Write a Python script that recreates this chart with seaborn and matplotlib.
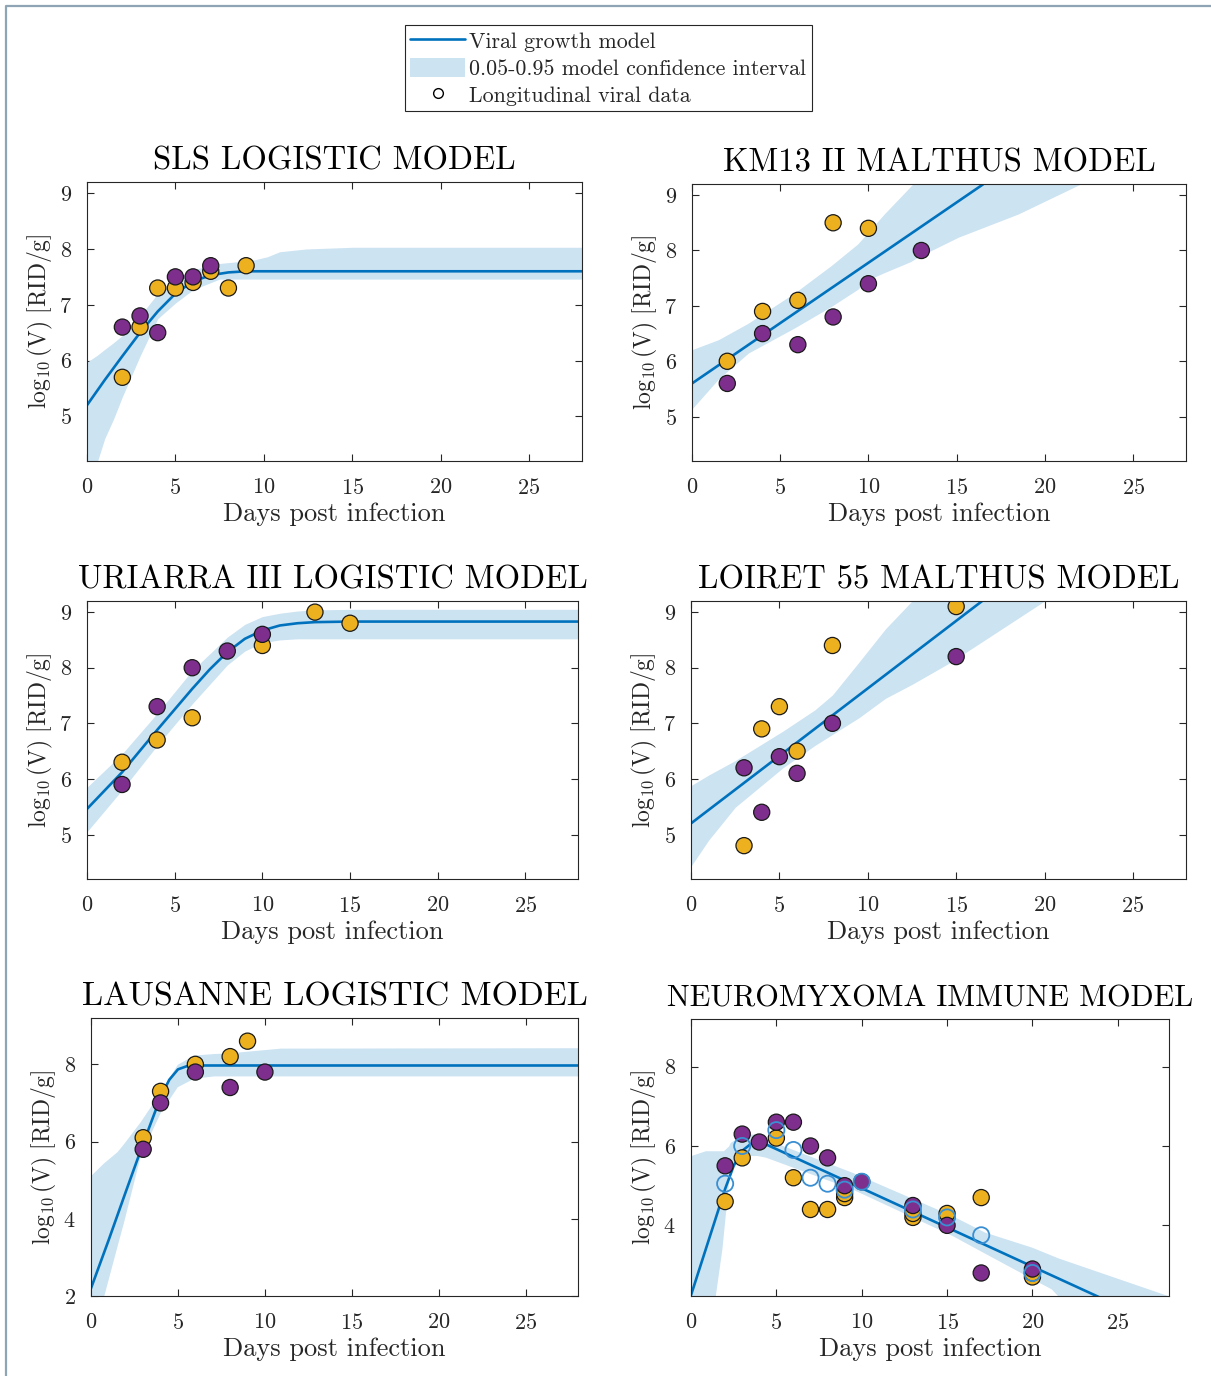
import matplotlib
matplotlib.use("Agg")
import matplotlib.pyplot as plt
import numpy as np
import pandas as pd
import seaborn as sns
from matplotlib.lines import Line2D
from matplotlib.patches import Patch

# ---------------- data ----------------
days_ticks = [0, 5, 10, 15, 20, 25]

# SLS logistic
sls_or_t = [2, 3, 4, 5, 6, 7, 8, 9]
sls_or_v = [5.7, 6.6, 7.3, 7.3, 7.4, 7.6, 7.3, 7.7]
sls_pu_t = [2, 3, 4, 5, 6, 7]
sls_pu_v = [6.6, 6.8, 6.5, 7.5, 7.5, 7.7]
sls_model_t = [0, 1, 2, 3, 4, 5, 6, 7, 8, 9, 10, 28]
sls_model_v = [5.2, 5.65, 6.08, 6.5, 6.88, 7.2, 7.42, 7.53, 7.58, 7.6, 7.6, 7.6]
sls_ci_t = [0, 0.6, 1, 1.5, 2, 3, 4, 5, 6, 7.5, 9.4, 10.2, 10.9, 12.4, 15, 28]
sls_ci_lo = [3.5, 4.2, 4.6, 4.95, 5.35, 6.08, 6.75, 7.03, 7.27, 7.46, 7.46, 7.46, 7.46, 7.46, 7.46, 7.46]
sls_ci_hi = [5.97, 6.1, 6.2, 6.32, 6.45, 6.8, 7.2, 7.45, 7.63, 7.74, 7.8, 7.86, 7.95, 8.0, 8.03, 8.03]

# KM13 II Malthus
km_or_t = [2, 4, 6, 8, 10]
km_or_v = [6.0, 6.9, 7.1, 8.5, 8.4]
km_pu_t = [2, 4, 6, 8, 10, 13]
km_pu_v = [5.6, 6.5, 6.3, 6.8, 7.4, 8.0]
km_model_t = [0, 28]
km_model_v = [5.6, 11.7]
km_ci_t = [0, 1.5, 3.2, 5.8, 7.9, 9.4, 9.9, 10.9, 12.4, 12.8, 15.1, 18.5, 21.9, 28]
km_ci_lo = [5.14, 5.68, 6.15, 6.6, 6.99, 7.3, 7.46, 7.6, 7.8, 7.88, 8.24, 8.66, 9.18, 10.0]
km_ci_hi = [6.21, 6.39, 6.69, 7.23, 7.73, 8.12, 8.3, 8.66, 9.16, 9.3, 10.1, 11.2, 12.3, 14.3]

# Uriarra III logistic
ur_or_t = [2, 4, 6, 10, 13, 15]
ur_or_v = [6.3, 6.7, 7.1, 8.4, 9.0, 8.8]
ur_pu_t = [2, 4, 6, 8, 10]
ur_pu_v = [5.9, 7.3, 8.0, 8.3, 8.6]
ur_model_t = [0, 2, 4, 6, 7, 8, 9, 10, 11, 12, 13, 15, 28]
ur_model_v = [5.46, 6.12, 6.88, 7.62, 7.97, 8.28, 8.52, 8.67, 8.76, 8.8, 8.82, 8.83, 8.83]
ur_ci_t = [0, 2, 4, 6, 8, 9, 10, 11, 12, 13, 15, 28]
ur_ci_lo = [5.05, 5.8, 6.6, 7.35, 8.05, 8.3, 8.45, 8.5, 8.52, 8.52, 8.52, 8.52]
ur_ci_hi = [5.85, 6.45, 7.18, 7.95, 8.55, 8.78, 8.92, 8.98, 9.02, 9.04, 9.05, 9.05]

# Loiret 55 Malthus
lt_or_t = [3, 4, 5, 6, 8, 15]
lt_or_v = [4.8, 6.9, 7.3, 6.5, 8.4, 9.1]
lt_pu_t = [3, 4, 5, 6, 8, 15]
lt_pu_v = [6.2, 5.4, 6.4, 6.1, 7.0, 8.2]
lt_model_t = [0, 28]
lt_model_v = [5.2, 12.0]
lt_ci_t = [0, 1, 2.5, 5.2, 7, 8, 9.5, 11, 12.5, 14.7, 20, 28]
lt_ci_lo = [4.43, 4.9, 5.49, 6.2, 6.6, 6.8, 7.1, 7.45, 7.7, 8.1, 9.2, 10.5]
lt_ci_hi = [5.88, 6.07, 6.33, 6.86, 7.24, 7.51, 8.1, 8.7, 9.2, 9.8, 11.2, 13.5]

# Lausanne logistic
la_or_t = [3, 4, 6, 8, 9]
la_or_v = [6.1, 7.3, 8.0, 8.2, 8.6]
la_pu_t = [3, 4, 6, 8, 10]
la_pu_v = [5.8, 7.0, 7.8, 7.4, 7.8]
la_model_t = [0, 1, 2, 3, 4, 4.5, 5, 5.5, 6, 28]
la_model_v = [2.2, 3.43, 4.7, 5.95, 7.15, 7.6, 7.87, 7.95, 7.97, 7.97]
la_ci_t = [0, 0.73, 1.5, 1.88, 2.84, 4, 4.96, 5.9, 7.07, 8, 10.9, 28]
la_ci_lo = [1.0, 2.0, 3.3, 3.93, 5.65, 6.77, 7.42, 7.64, 7.7, 7.7, 7.7, 7.7]
la_ci_hi = [5.13, 5.45, 5.74, 5.95, 6.52, 7.3, 8.0, 8.24, 8.28, 8.3, 8.42, 8.43]

# Neuromyxoma immune
ne_or_t = [2, 3, 5, 6, 7, 8, 9, 9, 13, 13, 15, 17, 20, 20]
ne_or_v = [4.6, 5.7, 6.2, 5.2, 4.4, 4.4, 4.7, 4.8, 4.2, 4.3, 4.3, 4.7, 2.7, 2.8]
ne_pu_t = [2, 3, 4, 5, 6, 7, 8, 9, 10, 13, 15, 17, 20]
ne_pu_v = [5.5, 6.3, 6.1, 6.6, 6.6, 6.0, 5.7, 5.0, 5.1, 4.5, 4.0, 2.8, 2.9]
ne_mean_t = [2, 3, 5, 6, 7, 8, 9, 10, 13, 15, 17, 20]
ne_mean_v = [5.05, 6.0, 6.4, 5.9, 5.2, 5.05, 4.9, 5.1, 4.4, 4.2, 3.75, 2.8]
ne_model_t = [0, 1, 2, 2.5, 3, 3.5, 4, 4.35, 23.76, 28]
ne_model_v = [2.24, 3.58, 4.92, 5.5, 5.88, 6.05, 6.1, 6.05, 2.22, 1.39]
ne_ci_t = [0, 0.84, 1.42, 1.81, 1.9, 2.2, 2.3, 2.79, 3.18, 3.86, 4.35, 9.42, 15.27, 17.2, 19.96, 21.1, 21.5, 28]
ne_ci_lo = [0.0, 1.0, 2.22, 3.41, 3.8, 5.09, 5.3, 5.76, 5.76, 5.76, 5.72, 4.92, 3.75, 3.3, 2.66, 2.4, 2.22, 1.0]
ne_ci_hi = [5.76, 5.88, 5.88, 5.88, 5.88, 6.0, 6.09, 6.22, 6.3, 6.3, 6.18, 5.34, 4.25, 3.83, 3.45, 3.25, 3.18, 2.22]

# ---------------- style ----------------
LINE = "#0072BD"
BAND = "#CCE3F2"
ORANGE = "#EDB120"
PURPLE = "#7E2F8E"
OPEN = "#3A8FD3"
AXC = "#262626"

sns.set_theme(style="white")
plt.rcParams.update({
    "font.family": ["cmr10", "DejaVu Serif"],
    "mathtext.fontset": "cm",
    "axes.unicode_minus": False,
    "axes.formatter.use_mathtext": True,
    "axes.edgecolor": AXC,
    "axes.linewidth": 0.8,
})

W, H = 1211, 1376
fig = plt.figure(figsize=(W / 100, H / 100), dpi=100)


def add_axes(l, t, r, b):
    return fig.add_axes([l / W, 1 - b / H, (r - l) / W, (b - t) / H])


def panel(ax, title, or_t, or_v, pu_t, pu_v, m_t, m_v, c_t, c_lo, c_hi,
          ylim, yticks, mean_t=None, mean_v=None, title_size=23.5):
    ax.fill_between(c_t, c_lo, c_hi, color=BAND, lw=0, zorder=1)
    sns.lineplot(x=m_t, y=m_v, ax=ax, color=LINE, lw=1.9, sort=False,
                 estimator=None, zorder=2)
    obs = pd.DataFrame({
        "day": list(or_t) + list(pu_t),
        "v": list(or_v) + list(pu_v),
        "group": ["a"] * len(or_t) + ["b"] * len(pu_t),
    })
    sns.scatterplot(data=obs, x="day", y="v", hue="group",
                    palette={"a": ORANGE, "b": PURPLE}, s=135,
                    edgecolor="#1a1a1a", linewidth=0.9, legend=False,
                    ax=ax, zorder=3)
    if mean_t is not None:
        sns.scatterplot(x=mean_t, y=mean_v, ax=ax, s=135, color=OPEN,
                        linewidth=1.3, legend=False, zorder=4)
        coll = ax.collections[-1]
        coll.set_facecolor("none")
        coll.set_edgecolor(OPEN)
    ax.set_xlim(0, 28)
    ax.set_ylim(*ylim)
    ax.set_xticks(days_ticks)
    ax.set_yticks(yticks)
    ax.tick_params(direction="in", length=5, width=0.8, top=True, right=True,
                   bottom=True, left=True, labelsize=16, colors=AXC)
    ax.tick_params(axis="x", pad=12)
    ax.tick_params(axis="y", pad=11)
    ax.set_title(title, fontsize=title_size, pad=9, color="black")
    ax.set_xlabel("Days post infection", fontsize=19, color=AXC, labelpad=3)
    ax.set_ylabel(r"$\log_{10}(\mathrm{V})\ [\mathrm{RID/g}]$", fontsize=17,
                  color=AXC, labelpad=3)
    for sp in ax.spines.values():
        sp.set_visible(True)
        sp.set_color(AXC)
        sp.set_linewidth(0.8)
        sp.set_zorder(5)


ax1 = add_axes(87, 182, 582, 461)
panel(ax1, "SLS LOGISTIC MODEL", sls_or_t, sls_or_v, sls_pu_t, sls_pu_v,
      sls_model_t, sls_model_v, sls_ci_t, sls_ci_lo, sls_ci_hi,
      (4.2, 9.2), [5, 6, 7, 8, 9])

ax2 = add_axes(692, 184, 1186, 461)
panel(ax2, "KM13 II MALTHUS MODEL", km_or_t, km_or_v, km_pu_t, km_pu_v,
      km_model_t, km_model_v, km_ci_t, km_ci_lo, km_ci_hi,
      (4.2, 9.2), [5, 6, 7, 8, 9])

ax3 = add_axes(87, 601, 578, 879)
panel(ax3, "URIARRA III LOGISTIC MODEL", ur_or_t, ur_or_v, ur_pu_t, ur_pu_v,
      ur_model_t, ur_model_v, ur_ci_t, ur_ci_lo, ur_ci_hi,
      (4.2, 9.2), [5, 6, 7, 8, 9])

ax4 = add_axes(691, 601, 1186, 879)
panel(ax4, "LOIRET 55 MALTHUS MODEL", lt_or_t, lt_or_v, lt_pu_t, lt_pu_v,
      lt_model_t, lt_model_v, lt_ci_t, lt_ci_lo, lt_ci_hi,
      (4.2, 9.2), [5, 6, 7, 8, 9])

ax5 = add_axes(91, 1018, 578, 1296)
panel(ax5, "LAUSANNE LOGISTIC MODEL", la_or_t, la_or_v, la_pu_t, la_pu_v,
      la_model_t, la_model_v, la_ci_t, la_ci_lo, la_ci_hi,
      (2.0, 9.2), [2, 4, 6, 8], title_size=24.4)

ax6 = add_axes(691, 1019, 1169, 1296)
panel(ax6, "NEUROMYXOMA IMMUNE MODEL", ne_or_t, ne_or_v, ne_pu_t, ne_pu_v,
      ne_model_t, ne_model_v, ne_ci_t, ne_ci_lo, ne_ci_hi,
      (2.22, 9.2), [4, 6, 8], ne_mean_t, ne_mean_v, title_size=21.8)

# shared legend
handles = [
    Line2D([], [], color=LINE, lw=1.9),
    Patch(facecolor=BAND, edgecolor="none"),
    Line2D([], [], ls="none", marker="o", markersize=7, markerfacecolor="none",
           markeredgecolor="black", markeredgewidth=1.0),
]
labels = ["Viral growth model", "0.05-0.95 model confidence interval",
          "Longitudinal viral data"]
leg = fig.legend(handles, labels, loc="upper left",
                 bbox_to_anchor=(405 / W, 1 - 25 / H), borderaxespad=0,
                 fontsize=15.8, frameon=True, fancybox=False, framealpha=1,
                 edgecolor=AXC, handlelength=2.5, handleheight=1.0,
                 handletextpad=0.17, labelspacing=0.26, borderpad=0.25)
leg.get_frame().set_linewidth(0.8)
for t in leg.get_texts():
    t.set_color(AXC)

# window frame
fig.add_artist(Line2D([5.5 / W, 5.5 / W, 1.0], [0.0, 1 - 5.5 / H, 1 - 5.5 / H],
                      color="#8FA5B6", lw=1.6, transform=fig.transFigure))

fig.savefig("out.png", dpi=100, facecolor="white")
